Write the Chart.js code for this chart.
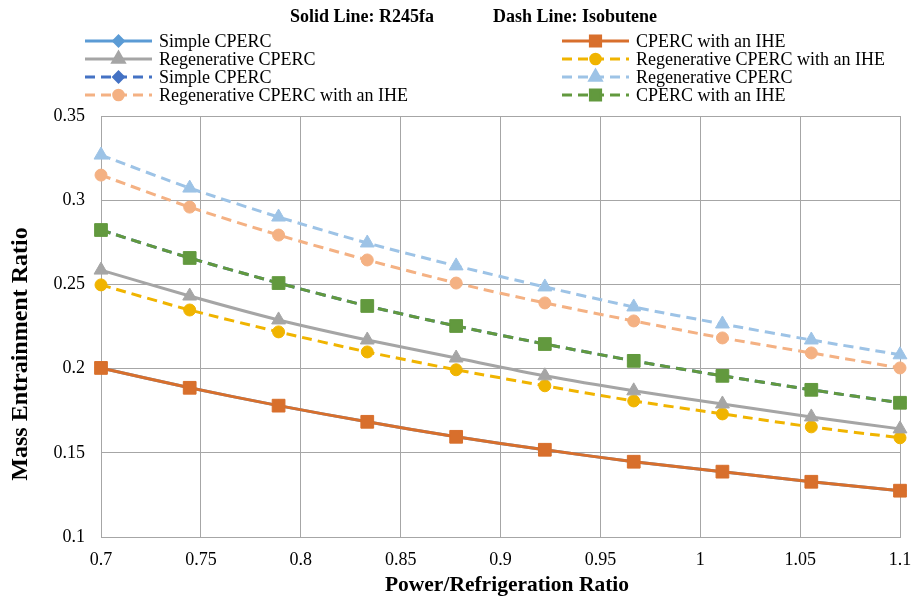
<!DOCTYPE html>
<html>
<head>
<meta charset="utf-8">
<script src="https://cdn.jsdelivr.net/npm/chart.js@4.4.1/dist/chart.umd.min.js"></script>
<style>
  html, body { margin: 0; padding: 0; background: #fff; }
  #wrap { width: 913px; height: 600px; position: relative; }
</style>
</head>
<body>
<div id="wrap"><canvas id="chart"></canvas></div>
<script>
// x positions of the 10 markers (power/refrigeration ratio)
const ratios = [0.7, 0.7444, 0.7889, 0.8333, 0.8778, 0.9222, 0.9667, 1.0111, 1.0556, 1.1];

// Solid line: R245fa
const r245faSimple = [0.2004, 0.1886, 0.1780, 0.1684, 0.1595, 0.1518, 0.1447, 0.1388, 0.1328, 0.1275];
const r245faRegen = [0.2585, 0.2431, 0.2289, 0.2170, 0.2063, 0.1957, 0.1868, 0.1790, 0.1713, 0.1642];
const r245faIHE = [0.2004, 0.1886, 0.1780, 0.1684, 0.1595, 0.1518, 0.1447, 0.1388, 0.1328, 0.1275];
// Dash line: Isobutene
const isoSimple = [0.2823, 0.2657, 0.2508, 0.2372, 0.2253, 0.2146, 0.2046, 0.1957, 0.1874, 0.1797];
const isoRegenIHE = [0.2497, 0.2348, 0.2218, 0.2099, 0.1993, 0.1898, 0.1808, 0.1731, 0.1654, 0.1589];
const isoRegen = [0.3268, 0.3072, 0.2900, 0.2746, 0.2610, 0.2485, 0.2366, 0.2265, 0.2170, 0.2082];
const isoIHE = [0.2823, 0.2657, 0.2508, 0.2372, 0.2253, 0.2146, 0.2046, 0.1957, 0.1874, 0.1797];
const regenIHEDash = [0.3149, 0.2959, 0.2793, 0.2645, 0.2508, 0.2390, 0.2283, 0.2182, 0.2093, 0.2004];

const yTicks = [0.1, 0.15, 0.2, 0.25, 0.3, 0.35];
const xTicks = [0.7, 0.75, 0.8, 0.85, 0.9, 0.95, 1, 1.05, 1.1];

const FONT = "'Liberation Serif', 'Times New Roman', serif";
const DASH = [10, 6];

Chart.defaults.font.family = FONT;
Chart.defaults.color = "#000";

const toPts = (ys) => ys.map((y, i) => ({ x: ratios[i], y }));

function series(label, ys, color, style, radius, dashed, order) {
  return {
    label,
    data: toPts(ys),
    borderColor: color,
    backgroundColor: color,
    pointBackgroundColor: color,
    pointBorderColor: color,
    borderWidth: 3,
    borderDash: dashed ? DASH : [],
    pointStyle: style,
    pointRadius: radius,
    pointBorderWidth: 1,
    tension: 0.25,
    fill: false,
    clip: false,
    order,
  };
}

const datasets = [
  series("Simple CPERC", r245faSimple, "#5b9bd5", "rectRot", 6, false, 5),          // 0
  series("Regenerative CPERC", r245faRegen, "#a5a5a5", "triangle", 8, false, 1),    // 1
  series("Simple CPERC", isoSimple, "#4472c4", "rectRot", 6, true, 5),              // 2
  series("Regenerative CPERC with an IHE", regenIHEDash, "#f4b183", "circle", 6, true, 1), // 3
  series("CPERC with an IHE", r245faIHE, "#d86f2c", "rect", 9, false, 1),           // 4
  series("Regenerative CPERC with an IHE", isoRegenIHE, "#f0b400", "circle", 6, true, 1),  // 5
  series("Regenerative CPERC", isoRegen, "#9dc3e6", "triangle", 8, true, 1),        // 6
  series("CPERC with an IHE", isoIHE, "#62993e", "rect", 9, true, 1),               // 7
];

// two-column legend, header and axis titles drawn on the canvas
const legendPlugin = {
  id: "twoColLegend",
  afterDraw(chart) {
    const ctx = chart.ctx;
    ctx.save();
    ctx.textBaseline = "middle";
    ctx.fillStyle = "#000";
    ctx.font = "bold 18px " + FONT;
    ctx.textAlign = "left";
    ctx.fillText("Solid Line: R245fa", 290, 17);
    ctx.fillText("Dash Line: Isobutene", 493, 17);

    const rows = [41, 59, 77, 95];
    const cols = [{ x0: 85, x1: 152, tx: 159 }, { x0: 562, x1: 629, tx: 636 }];
    ctx.font = "18px " + FONT;
    datasets.forEach((ds, i) => {
      const col = cols[Math.floor(i / 4)];
      const y = rows[i % 4];
      ctx.strokeStyle = ds.borderColor;
      ctx.lineWidth = 3;
      ctx.setLineDash(ds.borderDash);
      ctx.beginPath();
      ctx.moveTo(col.x0, y);
      ctx.lineTo(col.x1, y);
      ctx.stroke();
      ctx.setLineDash([]);
      ctx.fillStyle = ds.borderColor;
      Chart.helpers.drawPoint(ctx, {
        pointStyle: ds.pointStyle,
        radius: ds.pointRadius * 0.8,
        borderWidth: 1,
        rotation: 0,
      }, (col.x0 + col.x1) / 2, y);
      ctx.fillStyle = "#000";
      ctx.fillText(ds.label, col.tx, y + 1);
    });

    // axis titles
    ctx.fillStyle = "#000";
    ctx.textAlign = "center";
    ctx.font = "bold 21.5px " + FONT;
    ctx.fillText("Power/Refrigeration Ratio", 507, 585);
    ctx.translate(21, 354);
    ctx.rotate(-Math.PI / 2);
    ctx.font = "bold 24px " + FONT;
    ctx.fillText("Mass Entrainment Ratio", 0, 0);
    ctx.restore();
  },
};

new Chart(document.getElementById("chart"), {
  type: "line",
  data: { datasets },
  options: {
    responsive: true,
    maintainAspectRatio: false,
    animation: false,
    layout: { padding: { top: 116, right: 13, left: 0, bottom: 0 } },
    scales: {
      x: {
        type: "linear",
        min: 0.7,
        max: 1.1,
        afterBuildTicks: (s) => { s.ticks = xTicks.map((v) => ({ value: v })); },
        afterFit: (s) => { s.height = 63; s.paddingRight = 0; s.paddingLeft = 0; },
        grid: { color: "#a6a6a6", lineWidth: 1, drawTicks: false },
        border: { color: "#a6a6a6" },
        ticks: {
          padding: 12,
          color: "#000",
          font: { family: FONT, size: 18 },
          callback: (v) => String(+v.toFixed(2)),
        },
      },
      y: {
        min: 0.1,
        max: 0.35,
        afterBuildTicks: (s) => { s.ticks = yTicks.map((v) => ({ value: v })); },
        afterFit: (s) => { s.width = 101; s.paddingTop = 0; s.paddingBottom = 0; },
        grid: { color: "#a6a6a6", lineWidth: 1, drawTicks: false },
        border: { color: "#a6a6a6" },
        ticks: {
          padding: 16,
          color: "#000",
          font: { family: FONT, size: 18 },
          callback: (v) => String(+v.toFixed(2)),
        },
      },
    },
    plugins: {
      legend: { display: false },
      tooltip: { enabled: false },
    },
  },
  plugins: [legendPlugin],
});
</script>
</body>
</html>
